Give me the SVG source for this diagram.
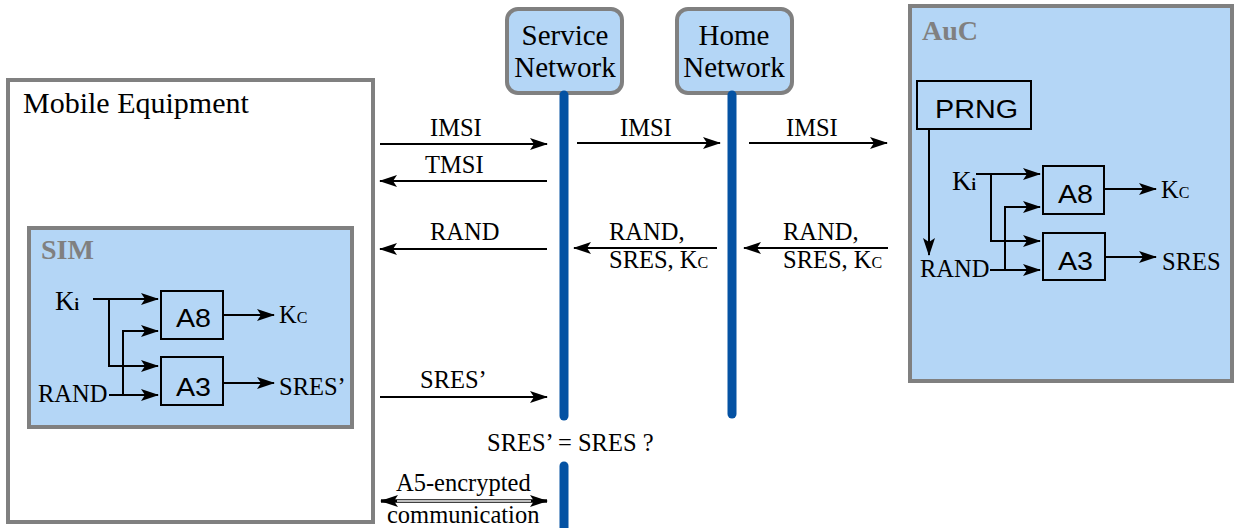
<svg xmlns="http://www.w3.org/2000/svg" width="1240" height="528" viewBox="0 0 1240 528">
<style>
.box{fill:#ffffff;stroke:#808080;stroke-width:4}
.blue{fill:#b4d6f6;stroke:#808080;stroke-width:4}
.blk{fill:none;stroke:#000;stroke-width:2}
.life{stroke:#0452a3;stroke-width:9;stroke-linecap:round;fill:none}
.ser{font-family:"Liberation Serif","Times New Roman",serif;fill:#000}
.lbl{font-size:24.5px}
.kbig{font-size:27px}
.node{font-size:29px}
.me{font-size:30px}
.ttl{font-family:"Liberation Serif",serif;font-weight:bold;font-size:28px;fill:#808080}
.sans{font-family:"Liberation Sans",Arial,sans-serif;font-size:26px;fill:#000}
.sub{font-size:16px}
.subi{font-size:16px;font-weight:bold}
.ar{fill:none;stroke:#000;stroke-width:2;marker-end:url(#ah)}
</style>
<defs>
<marker id="ah" viewBox="0 0 18 12" refX="17" refY="6" markerWidth="18" markerHeight="12" markerUnits="userSpaceOnUse" orient="auto-start-reverse">
<path d="M0,0 L18,6 L0,12 L4,6 Z" fill="#000"/>
</marker>
</defs>

<g id="mobile-equipment">
<rect class="box" x="8" y="80" width="365" height="442"/>
<text class="ser me" x="23" y="113">Mobile Equipment</text>
</g>

<g id="sim">
<rect class="blue" x="29" y="228" width="323" height="199"/>
<text class="ttl" x="41" y="259">SIM</text>
<text class="ser kbig" x="55" y="310">K<tspan class="subi">i</tspan></text>
<text class="ser lbl" x="38" y="402">RAND</text>
<rect class="blk" x="161" y="291" width="62" height="48"/>
<text class="sans" x="176" y="327" textLength="35" lengthAdjust="spacingAndGlyphs">A8</text>
<rect class="blk" x="161" y="357" width="62" height="48"/>
<text class="sans" x="176" y="396" textLength="35" lengthAdjust="spacingAndGlyphs">A3</text>
<text class="ser lbl" x="279" y="323">K<tspan class="sub">C</tspan></text>
<text class="ser lbl" x="279" y="395">SRES’</text>
<path class="ar" d="M93,299 H158"/>
<path class="ar" d="M109,299 V366 H158"/>
<path class="ar" d="M109,395 H158"/>
<path class="ar" d="M123,395 V331 H158"/>
<path class="ar" d="M223,315 H274"/>
<path class="ar" d="M223,383 H274"/>
</g>

<g id="service-network">
<rect class="blue" x="507" y="9" width="115" height="84" rx="11"/>
<text class="ser node" x="565" y="45" text-anchor="middle">Service</text>
<text class="ser node" x="565" y="77" text-anchor="middle">Network</text>
</g>

<g id="home-network">
<rect class="blue" x="677" y="9" width="115" height="84" rx="11"/>
<text class="ser node" x="734" y="45" text-anchor="middle">Home</text>
<text class="ser node" x="734" y="77" text-anchor="middle">Network</text>
</g>

<g id="auc">
<rect class="blue" x="910" y="6" width="322" height="375"/>
<text class="ttl" x="922" y="40">AuC</text>
<rect class="blk" x="917" y="81" width="114" height="48"/>
<text class="sans" x="935" y="118" textLength="83" lengthAdjust="spacingAndGlyphs">PRNG</text>
<text class="ser kbig" x="952" y="190">K<tspan class="subi">i</tspan></text>
<text class="ser lbl" x="920" y="277">RAND</text>
<rect class="blk" x="1043" y="166" width="61" height="48"/>
<text class="sans" x="1058" y="203" textLength="35" lengthAdjust="spacingAndGlyphs">A8</text>
<rect class="blk" x="1043" y="233" width="62" height="47"/>
<text class="sans" x="1058" y="270" textLength="35" lengthAdjust="spacingAndGlyphs">A3</text>
<text class="ser lbl" x="1161" y="198">K<tspan class="sub">C</tspan></text>
<text class="ser lbl" x="1162" y="270">SRES</text>
<path class="ar" d="M929,129 V255"/>
<path class="ar" d="M976,174 H1040"/>
<path class="ar" d="M991,174 V241 H1040"/>
<path class="ar" d="M990,270 H1040"/>
<path class="ar" d="M1005,270 V207 H1040"/>
<path class="ar" d="M1104,189 H1156"/>
<path class="ar" d="M1105,257 H1156"/>
</g>

<g id="connectors">
<path class="life" d="M564,95 V416"/>
<path class="life" d="M564,466 V540"/>
<path class="life" d="M732,95 V414"/>
<path class="ar" d="M380,144 H547"/>
<path class="ar" d="M547,181 H380"/>
<path class="ar" d="M547,249 H380"/>
<path class="ar" d="M577,143 H720"/>
<path class="ar" d="M717,248 H574"/>
<path class="ar" d="M749,143 H887"/>
<path class="ar" d="M888,248 H744"/>
<path class="ar" d="M380,397 H547"/>
<path d="M381,501 H547" fill="none" stroke="#000" stroke-width="3.6" marker-start="url(#ah)" marker-end="url(#ah)"/>
<path d="M397,501 H531" fill="none" stroke="#fff" stroke-width="1.4"/>
</g>

<g id="labels">
<text class="ser lbl" x="430" y="136">IMSI</text>
<text class="ser lbl" x="425" y="173">TMSI</text>
<text class="ser lbl" x="430" y="240">RAND</text>
<text class="ser lbl" x="620" y="136">IMSI</text>
<text class="ser lbl" x="786" y="136">IMSI</text>
<text class="ser lbl" x="609" y="240">RAND,</text>
<text class="ser lbl" x="609" y="268">SRES, K<tspan class="sub">C</tspan></text>
<text class="ser lbl" x="783" y="240">RAND,</text>
<text class="ser lbl" x="783" y="268">SRES, K<tspan class="sub">C</tspan></text>
<text class="ser lbl" x="420" y="388">SRES’</text>
<text class="ser lbl" x="487" y="451">SRES’ = SRES ?</text>
<text class="ser lbl" x="396" y="491">A5-encrypted</text>
<text class="ser lbl" x="387" y="523">communication</text>
</g>
</svg>
